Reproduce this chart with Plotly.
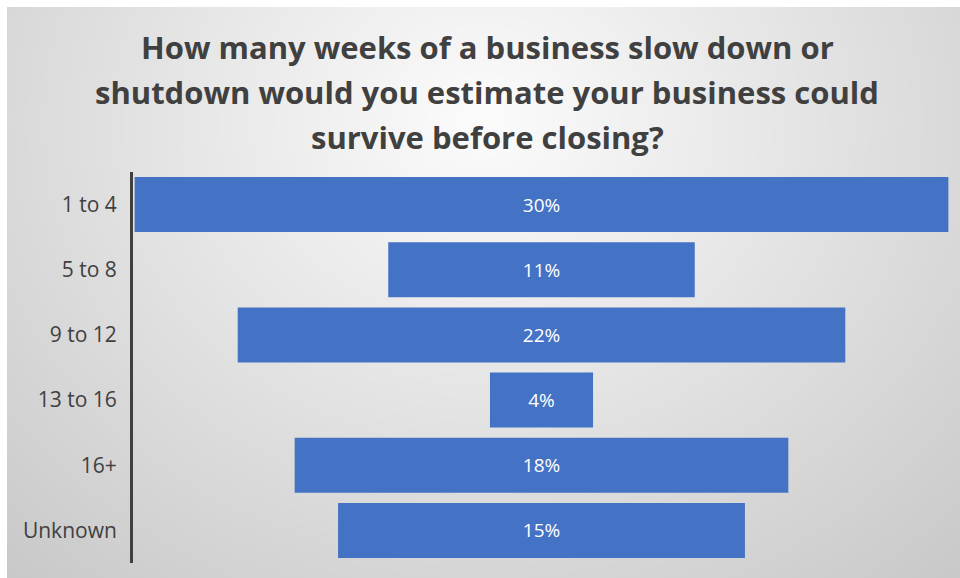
import base64, struct, zlib
import numpy as np
import plotly.graph_objects as go

# ---- data ----
categories = ["1 to 4", "5 to 8", "9 to 12", "13 to 16", "16+", "Unknown"]
values = [30.0, 11.3, 22.4, 3.8, 18.2, 15.0]
title_lines = [
    "How many weeks of a business slow down or",
    "shutdown would you estimate your business could",
    "survive before closing?",
]

W, H = 960, 578
L, R, T, B = 133, 10, 172, 15
PW, PH = W - L - R, H - T - B


def px_to_paper_x(px):
    return (px - L) / PW


def px_to_paper_y(py):
    return (H - B - py) / PH


# ---- radial gradient background image (PNG built by hand) ----
bx0, by0 = 7, 7
bw, bh = W - bx0, H - by0
yy, xx = np.mgrid[0:bh, 0:bw]
cx, cy = 480 - bx0, 120 - by0
r = np.sqrt(((xx - cx) / 771.0) ** 2 + ((yy - cy) / 670.0) ** 2)
r = np.clip(r, 0, 1.2)
val = np.clip(252 - 56 * r, 0, 255).astype(np.uint8)
rgb = np.stack([val, val, val], axis=-1)
raw = b"".join(b"\x00" + rgb[i].tobytes() for i in range(bh))


def chunk(tag, data):
    c = struct.pack(">I", len(data)) + tag + data
    return c + struct.pack(">I", zlib.crc32(tag + data) & 0xFFFFFFFF)


png = b"\x89PNG\r\n\x1a\n" + chunk(b"IHDR", struct.pack(">IIBBBBB", bw, bh, 8, 2, 0, 0, 0)) \
    + chunk(b"IDAT", zlib.compress(raw, 9)) + chunk(b"IEND", b"")
src = "data:image/png;base64," + base64.b64encode(png).decode()

FONT = "'Open Sans', Lato, sans-serif"

fig = go.Figure(
    go.Funnel(
        y=categories,
        x=values,
        marker=dict(color="#4472C4"),
        texttemplate="%{x:.0f}%",
        textinfo="none",
        textposition="inside",
        insidetextanchor="middle",
        textfont=dict(color="white", size=19, family=FONT),
        connector=dict(visible=False),
        hoverinfo="skip",
    )
)

half = max(values) / 2 * 1.004
fig.update_layout(
    width=W,
    height=H,
    margin=dict(l=L, r=R, t=T, b=B),
    paper_bgcolor="#c6c6c6",
    plot_bgcolor="rgba(0,0,0,0)",
    funnelgap=0.155,
    showlegend=False,
    xaxis=dict(visible=False, range=[-half, half], fixedrange=True),
    yaxis=dict(
        showline=True,
        linecolor="#404040",
        linewidth=3,
        showgrid=False,
        ticks="outside",
        ticklen=9,
        tickcolor="rgba(0,0,0,0)",
        tickfont=dict(size=21, color="#404040", family=FONT),
        fixedrange=True,
    ),
    images=[
        dict(
            source=src,
            xref="paper",
            yref="paper",
            x=px_to_paper_x(bx0),
            y=px_to_paper_y(by0),
            sizex=(bw + 4) / PW,
            sizey=(bh + 4) / PH,
            xanchor="left",
            yanchor="top",
            sizing="stretch",
            layer="below",
        )
    ],
    shapes=[
        dict(type="rect", xref="paper", yref="paper", layer="below",
             x0=px_to_paper_x(-2), x1=px_to_paper_x(bx0), y0=px_to_paper_y(H + 2), y1=px_to_paper_y(-2),
             fillcolor="white", line=dict(width=0)),
        dict(type="rect", xref="paper", yref="paper", layer="below",
             x0=px_to_paper_x(-2), x1=px_to_paper_x(W + 2), y0=px_to_paper_y(by0), y1=px_to_paper_y(-2),
             fillcolor="white", line=dict(width=0)),
    ],
)

line_y = [47, 92, 137]
for txt, py in zip(title_lines, line_y):
    fig.add_annotation(
        text="<b>" + txt + "</b>",
        xref="paper",
        yref="paper",
        x=px_to_paper_x(487),
        y=px_to_paper_y(py),
        xanchor="center",
        yanchor="middle",
        showarrow=False,
        font=dict(size=31, color="#404040", family=FONT),
    )

fig.write_html(
    "out.html",
    config={"displayModeBar": False},
    post_script="document.body.style.margin='0';document.body.style.overflow='hidden';",
)
